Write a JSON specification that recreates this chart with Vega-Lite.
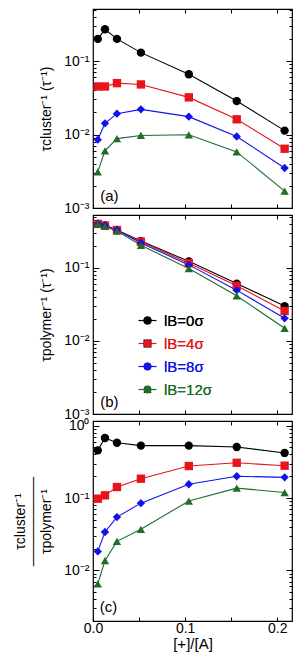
{
  "$schema": "https://vega.github.io/schema/vega-lite/v6.json",
  "autosize": {"type": "pad"},
  "padding": {"left": 12, "top": 7, "right": 9, "bottom": 0},
  "spacing": 7,
  "bounds": "flush",
  "config": {
    "font": "Liberation Sans",
    "view": {"stroke": "black", "strokeWidth": 1.2},
    "axis": {"domain": false, "grid": false, "tickColor": "black", "tickWidth": 1, "labelColor": "black", "titleColor": "black", "labelFont": "Liberation Sans", "titleFont": "Liberation Sans", "labelFontSize": 14, "titleFontSize": 14, "titleFontWeight": "normal", "labelOverlap": false, "labelFlush": false}
  },
  "resolve": {"legend": {"stroke": "independent", "fill": "independent", "shape": "independent"}},
  "datasets": {
    "a": [
      {"x": 0.0052, "y": 0.20, "s": "lB=0σ"}, {"x": 0.013, "y": 0.27, "s": "lB=0σ"}, {"x": 0.026, "y": 0.20, "s": "lB=0σ"}, {"x": 0.052, "y": 0.13, "s": "lB=0σ"}, {"x": 0.104, "y": 0.066, "s": "lB=0σ"}, {"x": 0.156, "y": 0.0285, "s": "lB=0σ"}, {"x": 0.208, "y": 0.0113, "s": "lB=0σ"},
      {"x": 0.0052, "y": 0.045, "s": "lB=4σ"}, {"x": 0.013, "y": 0.045, "s": "lB=4σ"}, {"x": 0.026, "y": 0.050, "s": "lB=4σ"}, {"x": 0.052, "y": 0.048, "s": "lB=4σ"}, {"x": 0.104, "y": 0.032, "s": "lB=4σ"}, {"x": 0.156, "y": 0.0161, "s": "lB=4σ"}, {"x": 0.208, "y": 0.0064, "s": "lB=4σ"},
      {"x": 0.0052, "y": 0.0085, "s": "lB=8σ"}, {"x": 0.013, "y": 0.0142, "s": "lB=8σ"}, {"x": 0.026, "y": 0.0192, "s": "lB=8σ"}, {"x": 0.052, "y": 0.022, "s": "lB=8σ"}, {"x": 0.104, "y": 0.0175, "s": "lB=8σ"}, {"x": 0.156, "y": 0.0094, "s": "lB=8σ"}, {"x": 0.208, "y": 0.0035, "s": "lB=8σ"},
      {"x": 0.0052, "y": 0.0031, "s": "lB=12σ"}, {"x": 0.013, "y": 0.0060, "s": "lB=12σ"}, {"x": 0.026, "y": 0.0088, "s": "lB=12σ"}, {"x": 0.052, "y": 0.0097, "s": "lB=12σ"}, {"x": 0.104, "y": 0.0099, "s": "lB=12σ"}, {"x": 0.156, "y": 0.0058, "s": "lB=12σ"}, {"x": 0.208, "y": 0.0017, "s": "lB=12σ"}
    ],
    "b": [
      {"x": 0.0052, "y": 0.40, "s": "lB=0σ"}, {"x": 0.013, "y": 0.38, "s": "lB=0σ"}, {"x": 0.026, "y": 0.33, "s": "lB=0σ"}, {"x": 0.052, "y": 0.233, "s": "lB=0σ"}, {"x": 0.104, "y": 0.123, "s": "lB=0σ"}, {"x": 0.156, "y": 0.061, "s": "lB=0σ"}, {"x": 0.208, "y": 0.030, "s": "lB=0σ"},
      {"x": 0.0052, "y": 0.40, "s": "lB=4σ"}, {"x": 0.013, "y": 0.38, "s": "lB=4σ"}, {"x": 0.026, "y": 0.33, "s": "lB=4σ"}, {"x": 0.052, "y": 0.228, "s": "lB=4σ"}, {"x": 0.104, "y": 0.116, "s": "lB=4σ"}, {"x": 0.156, "y": 0.057, "s": "lB=4σ"}, {"x": 0.208, "y": 0.0257, "s": "lB=4σ"},
      {"x": 0.0052, "y": 0.40, "s": "lB=8σ"}, {"x": 0.013, "y": 0.38, "s": "lB=8σ"}, {"x": 0.026, "y": 0.33, "s": "lB=8σ"}, {"x": 0.052, "y": 0.22, "s": "lB=8σ"}, {"x": 0.104, "y": 0.110, "s": "lB=8σ"}, {"x": 0.156, "y": 0.0496, "s": "lB=8σ"}, {"x": 0.208, "y": 0.0204, "s": "lB=8σ"},
      {"x": 0.0052, "y": 0.40, "s": "lB=12σ"}, {"x": 0.013, "y": 0.37, "s": "lB=12σ"}, {"x": 0.026, "y": 0.32, "s": "lB=12σ"}, {"x": 0.052, "y": 0.204, "s": "lB=12σ"}, {"x": 0.104, "y": 0.098, "s": "lB=12σ"}, {"x": 0.156, "y": 0.0415, "s": "lB=12σ"}, {"x": 0.208, "y": 0.0149, "s": "lB=12σ"}
    ],
    "c": [
      {"x": 0.0052, "y": 0.456, "s": "lB=0σ"}, {"x": 0.013, "y": 0.675, "s": "lB=0σ"}, {"x": 0.026, "y": 0.58, "s": "lB=0σ"}, {"x": 0.052, "y": 0.53, "s": "lB=0σ"}, {"x": 0.104, "y": 0.53, "s": "lB=0σ"}, {"x": 0.156, "y": 0.507, "s": "lB=0σ"}, {"x": 0.208, "y": 0.42, "s": "lB=0σ"},
      {"x": 0.0052, "y": 0.098, "s": "lB=4σ"}, {"x": 0.013, "y": 0.109, "s": "lB=4σ"}, {"x": 0.026, "y": 0.142, "s": "lB=4σ"}, {"x": 0.052, "y": 0.185, "s": "lB=4σ"}, {"x": 0.104, "y": 0.277, "s": "lB=4σ"}, {"x": 0.156, "y": 0.307, "s": "lB=4σ"}, {"x": 0.208, "y": 0.28, "s": "lB=4σ"},
      {"x": 0.0052, "y": 0.0183, "s": "lB=8σ"}, {"x": 0.013, "y": 0.034, "s": "lB=8σ"}, {"x": 0.026, "y": 0.0546, "s": "lB=8σ"}, {"x": 0.052, "y": 0.085, "s": "lB=8σ"}, {"x": 0.104, "y": 0.155, "s": "lB=8σ"}, {"x": 0.156, "y": 0.20, "s": "lB=8σ"}, {"x": 0.208, "y": 0.193, "s": "lB=8σ"},
      {"x": 0.0052, "y": 0.0065, "s": "lB=12σ"}, {"x": 0.013, "y": 0.0137, "s": "lB=12σ"}, {"x": 0.026, "y": 0.0252, "s": "lB=12σ"}, {"x": 0.052, "y": 0.037, "s": "lB=12σ"}, {"x": 0.104, "y": 0.091, "s": "lB=12σ"}, {"x": 0.156, "y": 0.137, "s": "lB=12σ"}, {"x": 0.208, "y": 0.119, "s": "lB=12σ"}
    ]
  },
  "vconcat": [
    {
      "width": 199, "height": 199,
      "layer": [
        {
          "data": {"name": "a"},
          "mark": {"type": "line", "strokeWidth": 1.1},
          "encoding": {
            "x": {"field": "x", "type": "quantitative", "scale": {"domain": [0, 0.216], "nice": false, "zero": false},
                  "axis": {"orient": "bottom", "values": [0, 0.05, 0.1, 0.15, 0.2], "labels": false, "title": null, "tickSize": -4}},
            "y": {"field": "y", "type": "quantitative", "scale": {"type": "log", "domain": [0.001, 0.51], "nice": false},
                  "axis": {"orient": "left", "values": [0.001,0.002,0.003,0.004,0.005,0.006,0.007,0.008,0.009,0.01,0.02,0.03,0.04,0.05,0.06,0.07,0.08,0.09,0.1,0.2,0.3,0.4,0.5],
                           "labelExpr": "datum.value == 0.001 ? '10⁻³' : datum.value == 0.01 ? '10⁻²' : datum.value == 0.1 ? '10⁻¹' : datum.value == 1 ? '10⁰' : ''",
                           "labelFontSize": {"condition": {"test": "datum.value == 0.001 || datum.value == 0.01 || datum.value == 0.1 || datum.value == 1", "value": 14}, "value": 0},
                           "tickSize": {"condition": {"test": "datum.value == 0.001 || datum.value == 0.01 || datum.value == 0.1 || datum.value == 1", "value": -6}, "value": -3},
                           "labelPadding": 10, "title": "τcluster⁻¹ (τ⁻¹)", "titleX": -40}},
            "stroke": {"field": "s", "type": "nominal", "scale": {"domain": ["lB=0σ", "lB=4σ", "lB=8σ", "lB=12σ"], "range": ["#000000", "#e8141c", "#1111ee", "#1e6e2a"]}, "legend": null}
          }
        },
        {
          "data": {"name": "a"},
          "mark": {"type": "point", "filled": true, "size": 70, "opacity": 1},
          "encoding": {
            "x": {"field": "x", "type": "quantitative", "axis": {"orient": "top", "values": [0, 0.05, 0.1, 0.15, 0.2], "labels": false, "title": null, "tickSize": -4}},
            "y": {"field": "y", "type": "quantitative", "axis": {"orient": "right", "values": [0.001,0.002,0.003,0.004,0.005,0.006,0.007,0.008,0.009,0.01,0.02,0.03,0.04,0.05,0.06,0.07,0.08,0.09,0.1,0.2,0.3,0.4,0.5], "labels": false, "title": null,
                  "tickSize": {"condition": {"test": "datum.value == 0.001 || datum.value == 0.01 || datum.value == 0.1 || datum.value == 1", "value": -6}, "value": -3}}},
            "fill": {"field": "s", "type": "nominal", "sort": ["lB=0σ", "lB=4σ", "lB=8σ", "lB=12σ"], "scale": {"range": ["#000000", "#e8141c", "#1111ee", "#1e6e2a"]}, "legend": null},
            "shape": {"field": "s", "type": "nominal", "sort": ["lB=0σ", "lB=4σ", "lB=8σ", "lB=12σ"], "scale": {"range": ["circle", "square", "diamond", "triangle-up"]}, "legend": null}
          }
        },
        {
          "data": {"values": [{}]},
          "mark": {"type": "text", "text": "(a)", "fontSize": 15, "align": "left", "baseline": "alphabetic", "color": "black"},
          "encoding": {"x": {"datum": 0.0079, "type": "quantitative", "axis": null}, "y": {"datum": 0.00125, "type": "quantitative", "axis": null}}
        }
      ]
    },
    {
      "width": 199, "height": 199,
      "layer": [
        {
          "data": {"name": "b"},
          "mark": {"type": "line", "strokeWidth": 1.1},
          "encoding": {
            "x": {"field": "x", "type": "quantitative", "scale": {"domain": [0, 0.216], "nice": false, "zero": false},
                  "axis": {"orient": "bottom", "values": [0, 0.05, 0.1, 0.15, 0.2], "labels": false, "title": null, "tickSize": -4}},
            "y": {"field": "y", "type": "quantitative", "scale": {"type": "log", "domain": [0.001, 0.53], "nice": false},
                  "axis": {"orient": "left", "values": [0.001,0.002,0.003,0.004,0.005,0.006,0.007,0.008,0.009,0.01,0.02,0.03,0.04,0.05,0.06,0.07,0.08,0.09,0.1,0.2,0.3,0.4,0.5],
                           "labelExpr": "datum.value == 0.001 ? '10⁻³' : datum.value == 0.01 ? '10⁻²' : datum.value == 0.1 ? '10⁻¹' : datum.value == 1 ? '10⁰' : ''",
                           "labelFontSize": {"condition": {"test": "datum.value == 0.001 || datum.value == 0.01 || datum.value == 0.1 || datum.value == 1", "value": 14}, "value": 0},
                           "tickSize": {"condition": {"test": "datum.value == 0.001 || datum.value == 0.01 || datum.value == 0.1 || datum.value == 1", "value": -6}, "value": -3},
                           "labelPadding": 10, "title": "τpolymer⁻¹ (τ⁻¹)", "titleX": -40}},
            "stroke": {"field": "s", "type": "nominal", "scale": {"domain": ["lB=0σ", "lB=4σ", "lB=8σ", "lB=12σ"], "range": ["#000000", "#e8141c", "#1111ee", "#1e6e2a"]},
                       "legend": {"orient": "none", "legendX": 47, "legendY": 98, "padding": 0, "title": null, "symbolType": "M-2.25,0H2.25", "symbolSize": 64, "symbolStrokeWidth": 1.2, "symbolFillColor": "transparent", "labelFontSize": 15, "labelFont": "Liberation Sans", "labelOffset": 9, "rowPadding": 7, "labelOpacity": 0}}
          }
        },
        {
          "data": {"name": "b"},
          "mark": {"type": "point", "filled": true, "size": 70, "opacity": 1},
          "encoding": {
            "x": {"field": "x", "type": "quantitative", "axis": {"orient": "top", "values": [0, 0.05, 0.1, 0.15, 0.2], "labels": false, "title": null, "tickSize": -4}},
            "y": {"field": "y", "type": "quantitative", "axis": {"orient": "right", "values": [0.001,0.002,0.003,0.004,0.005,0.006,0.007,0.008,0.009,0.01,0.02,0.03,0.04,0.05,0.06,0.07,0.08,0.09,0.1,0.2,0.3,0.4,0.5], "labels": false, "title": null,
                  "tickSize": {"condition": {"test": "datum.value == 0.001 || datum.value == 0.01 || datum.value == 0.1 || datum.value == 1", "value": -6}, "value": -3}}},
            "fill": {"field": "s", "type": "nominal", "sort": ["lB=0σ", "lB=4σ", "lB=8σ", "lB=12σ"], "scale": {"range": ["#000000", "#e8141c", "#1111ee", "#1e6e2a"]},
                     "legend": {"orient": "none", "legendX": 47, "legendY": 98, "padding": 0, "title": null, "symbolSize": 64, "labelFontSize": 15, "labelFont": "Liberation Sans", "labelOffset": 9, "rowPadding": 7,
                                "labelColor": {"expr": "datum.label == 'lB=0σ' ? '#000000' : datum.label == 'lB=4σ' ? '#e8141c' : datum.label == 'lB=8σ' ? '#1111ee' : '#1e6e2a'"}}},
            "shape": {"field": "s", "type": "nominal", "sort": ["lB=0σ", "lB=4σ", "lB=8σ", "lB=12σ"], "scale": {"range": ["circle", "square", "diamond", "triangle-up"]},
                     "legend": {"orient": "none", "legendX": 47, "legendY": 98, "padding": 0, "title": null, "symbolSize": 64, "labelFontSize": 15, "labelFont": "Liberation Sans", "labelOffset": 9, "rowPadding": 7,
                                "labelColor": {"expr": "datum.label == 'lB=0σ' ? '#000000' : datum.label == 'lB=4σ' ? '#e8141c' : datum.label == 'lB=8σ' ? '#1111ee' : '#1e6e2a'"}}}
          }
        },
        {
          "data": {"values": [{}]},
          "mark": {"type": "text", "text": "(b)", "fontSize": 15, "align": "left", "baseline": "alphabetic", "color": "black"},
          "encoding": {"x": {"datum": 0.0079, "type": "quantitative", "axis": null}, "y": {"datum": 0.00125, "type": "quantitative", "axis": null}}
        }
      ]
    },
    {
      "width": 199, "height": 200,
      "layer": [
        {
          "data": {"name": "c"},
          "mark": {"type": "line", "strokeWidth": 1.1},
          "encoding": {
            "x": {"field": "x", "type": "quantitative", "scale": {"domain": [0, 0.216], "nice": false, "zero": false},
                  "axis": {"orient": "bottom", "values": [0, 0.05, 0.1, 0.15, 0.2], "labelExpr": "datum.value == 0.05 || datum.value == 0.15 ? '' : format(datum.value, '.1f')", "title": "[+]/[A]", "tickSize": -4, "labelPadding": 4, "titlePadding": 1, "titleFontSize": 15, "labelFontSize": 14}},
            "y": {"field": "y", "type": "quantitative", "scale": {"type": "log", "domain": [0.002, 1.16], "nice": false},
                  "axis": {"orient": "left", "values": [0.002,0.003,0.004,0.005,0.006,0.007,0.008,0.009,0.01,0.02,0.03,0.04,0.05,0.06,0.07,0.08,0.09,0.1,0.2,0.3,0.4,0.5,0.6,0.7,0.8,0.9,1],
                           "labelExpr": "datum.value == 0.001 ? '10⁻³' : datum.value == 0.01 ? '10⁻²' : datum.value == 0.1 ? '10⁻¹' : datum.value == 1 ? '10⁰' : ''",
                           "labelFontSize": {"condition": {"test": "datum.value == 0.001 || datum.value == 0.01 || datum.value == 0.1 || datum.value == 1", "value": 14}, "value": 0},
                           "tickSize": {"condition": {"test": "datum.value == 0.001 || datum.value == 0.01 || datum.value == 0.1 || datum.value == 1", "value": -6}, "value": -3},
                           "labelPadding": 10, "title": ["τcluster⁻¹", "─────────", "τpolymer⁻¹"], "titleLineHeight": 13, "titleX": -66}},
            "stroke": {"field": "s", "type": "nominal", "scale": {"domain": ["lB=0σ", "lB=4σ", "lB=8σ", "lB=12σ"], "range": ["#000000", "#e8141c", "#1111ee", "#1e6e2a"]}, "legend": null}
          }
        },
        {
          "data": {"name": "c"},
          "mark": {"type": "point", "filled": true, "size": 70, "opacity": 1},
          "encoding": {
            "x": {"field": "x", "type": "quantitative", "axis": {"orient": "top", "values": [0, 0.05, 0.1, 0.15, 0.2], "labels": false, "title": null, "tickSize": -4}},
            "y": {"field": "y", "type": "quantitative", "axis": {"orient": "right", "values": [0.002,0.003,0.004,0.005,0.006,0.007,0.008,0.009,0.01,0.02,0.03,0.04,0.05,0.06,0.07,0.08,0.09,0.1,0.2,0.3,0.4,0.5,0.6,0.7,0.8,0.9,1], "labels": false, "title": null,
                  "tickSize": {"condition": {"test": "datum.value == 0.001 || datum.value == 0.01 || datum.value == 0.1 || datum.value == 1", "value": -6}, "value": -3}}},
            "fill": {"field": "s", "type": "nominal", "sort": ["lB=0σ", "lB=4σ", "lB=8σ", "lB=12σ"], "scale": {"range": ["#000000", "#e8141c", "#1111ee", "#1e6e2a"]}, "legend": null},
            "shape": {"field": "s", "type": "nominal", "sort": ["lB=0σ", "lB=4σ", "lB=8σ", "lB=12σ"], "scale": {"range": ["circle", "square", "diamond", "triangle-up"]}, "legend": null}
          }
        },
        {
          "data": {"values": [{}]},
          "mark": {"type": "text", "text": "(c)", "fontSize": 15, "align": "left", "baseline": "alphabetic", "color": "black"},
          "encoding": {"x": {"datum": 0.0072, "type": "quantitative", "axis": null}, "y": {"datum": 0.00266, "type": "quantitative", "axis": null}}
        }
      ]
    }
  ]
}
